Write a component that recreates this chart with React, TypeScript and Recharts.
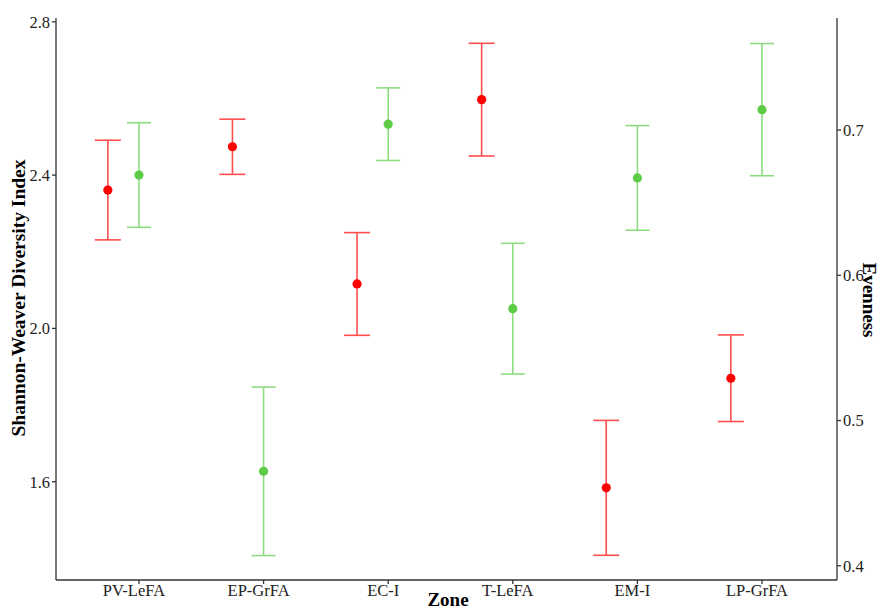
import React from 'react';
import { ComposedChart, Scatter, XAxis, YAxis, ErrorBar } from 'recharts';

const zones = ['PV-LeFA', 'EP-GrFA', 'EC-I', 'T-LeFA', 'EM-I', 'LP-GrFA'];
const shannon = [2.361, 2.474, 2.116, 2.597, 1.584, 1.87];
const shannonErr = [0.13, 0.072, 0.134, 0.147, 0.176, 0.113];
const evenness = [0.669, 0.465, 0.704, 0.577, 0.667, 0.714];
const evennessErr = [0.036, 0.058, 0.025, 0.045, 0.036, 0.0455];
const leftTicks = [1.6, 2.0, 2.4, 2.8];
const rightTicks = [0.4, 0.5, 0.6, 0.7];
const xTicks = [1, 2, 3, 4, 5, 6];

const DODGE = 0.25;

const shannonData = zones.map((z, i) => ({ zone: z, x: i + 1 - DODGE, y: shannon[i], err: shannonErr[i] }));
const evennessData = zones.map((z, i) => ({ zone: z, x: i + 1, y: evenness[i], err: evennessErr[i] }));

const FONT = '"Liberation Serif", "Times New Roman", serif';
const AXIS = '#333333';

const dot = (color: string) => (props: any) => (
  <circle cx={props.cx} cy={props.cy} r={4.6} fill={color} />
);

export default function App() {
  return (
    <div style={{ position: 'absolute', left: 0, top: 0, width: 878, height: 609, background: '#fff' }}>
      <ComposedChart
        width={878}
        height={609}
        margin={{ top: 18, right: 0, bottom: 0, left: 0 }}
        style={{ fontFamily: FONT }}
      >
        <XAxis
          type="number"
          dataKey="x"
          domain={[0.334, 6.602]}
          ticks={xTicks}
          tickFormatter={(v: number) => zones[v - 1] ?? ''}
          height={29}
          allowDataOverflow
          stroke={AXIS}
          strokeWidth={1.3}
          tickSize={4}
          tickMargin={0}
          tick={{ fill: '#222', fontSize: 16.5, fontFamily: FONT, dx: -5 }}
          label={{
            content: () => (
              <text x={448} y={606} textAnchor="middle" fontFamily={FONT} fontWeight="bold" fontSize={19} fill="#000">
                Zone
              </text>
            ),
          }}
        />
        <YAxis
          yAxisId="left"
          type="number"
          domain={[1.3435, 2.81]}
          ticks={leftTicks}
          allowDataOverflow
          width={56}
          stroke={AXIS}
          strokeWidth={1.3}
          tickSize={4}
          tickMargin={2}
          tickFormatter={(v: number) => v.toFixed(1)}
          tick={{ fill: '#222', fontSize: 16.5, fontFamily: FONT }}
          label={{
            content: () => (
              <text
                x={18}
                y={298}
                transform="rotate(-90, 18, 298)"
                textAnchor="middle"
                dominantBaseline="central"
                fontFamily={FONT}
                fontWeight="bold"
                fontSize={19.5}
                fill="#000"
              >
                Shannon-Weaver Diversity Index
              </text>
            ),
          }}
        />
        <YAxis
          yAxisId="right"
          orientation="right"
          type="number"
          domain={[0.3902, 0.7771]}
          ticks={rightTicks}
          allowDataOverflow
          width={41}
          stroke={AXIS}
          strokeWidth={1.3}
          tickSize={4}
          tickMargin={2}
          tickFormatter={(v: number) => v.toFixed(1)}
          tick={{ fill: '#222', fontSize: 16.5, fontFamily: FONT }}
          label={{
            content: () => (
              <text
                x={869}
                y={300}
                transform="rotate(90, 869, 300)"
                textAnchor="middle"
                dominantBaseline="central"
                fontFamily={FONT}
                fontWeight="bold"
                fontSize={19}
                fill="#000"
              >
                Evenness
              </text>
            ),
          }}
        />
        <Scatter
          yAxisId="left"
          data={shannonData}
          dataKey="y"
          isAnimationActive={false}
          shape={dot('#FF0000')}
        >
          <ErrorBar dataKey="err" direction="y" width={13} stroke="#FF4D4D" strokeWidth={1.6} isAnimationActive={false} />
        </Scatter>
        <Scatter
          yAxisId="right"
          data={evennessData}
          dataKey="y"
          isAnimationActive={false}
          shape={dot('#5DCB45')}
        >
          <ErrorBar dataKey="err" direction="y" width={12} stroke="#8EDC80" strokeWidth={1.6} isAnimationActive={false} />
        </Scatter>
      </ComposedChart>
    </div>
  );
}
